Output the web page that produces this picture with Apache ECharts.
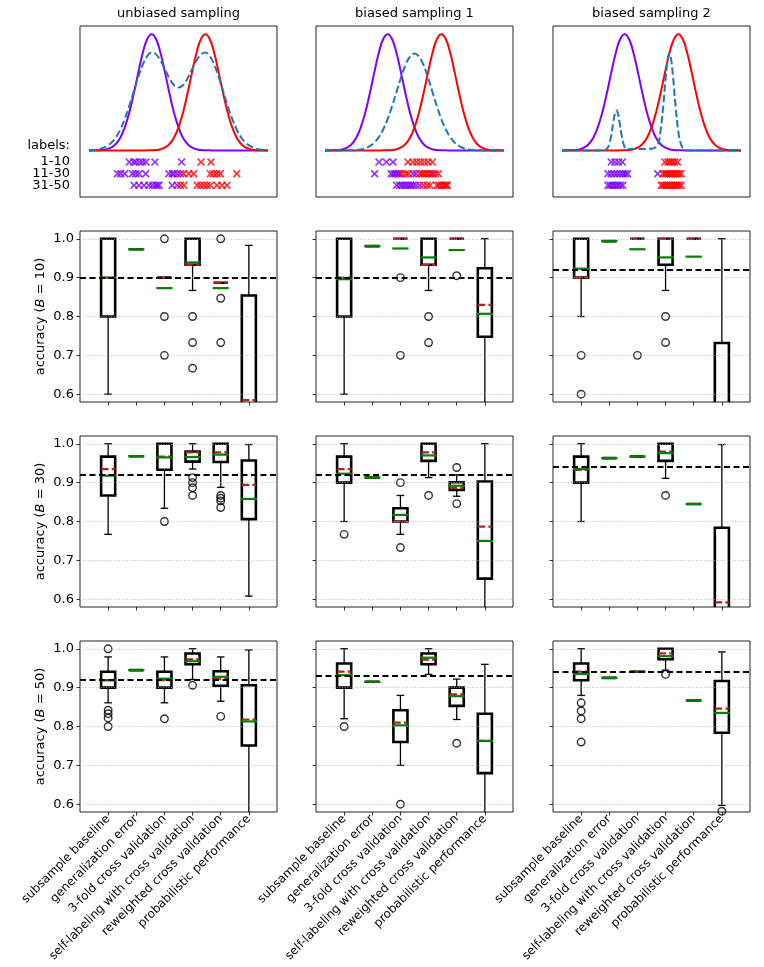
<!DOCTYPE html>
<html><head><meta charset="utf-8">
<script src="https://cdn.jsdelivr.net/npm/echarts@6/dist/echarts.min.js"></script>
<style>html,body{margin:0;padding:0;background:#fff}#c{width:764px;height:967px}</style>
</head><body><div id="c"></div>
<script>
// ---------- categories / labels ----------
const methods = ['subsample baseline','generalization error','3-fold cross validation','self-labeling with cross validation','reweighted cross validation','probabilistic performance'];
const samplings = ['unbiased sampling','biased sampling 1','biased sampling 2'];
const budgets = [10, 30, 50];
const labelRows = ['1-10','11-30','31-50'];
const labelRowY = [-0.1,-0.2,-0.3];

// ---------- top row: class densities and sampling densities ----------
const densX = [-6,-5.7,-5.4,-5.1,-4.8,-4.5,-4.2,-3.9,-3.6,-3.3,-3,-2.7,-2.4,-2.1,-1.8,-1.5,-1.2,-0.9,-0.6,-0.3,0,0.3,0.6,0.9,1.2,1.5,1.8,2.1,2.4,2.7,3,3.3,3.6,3.9,4.2,4.5,4.8,5.1,5.4,5.7,6];
const purpleDens = [0,0.001,0.002,0.004,0.011,0.026,0.056,0.110,0.198,0.325,0.487,0.667,0.835,0.956,1.000,0.956,0.835,0.667,0.487,0.325,0.198,0.110,0.056,0.026,0.011,0.004,0.002,0.001,0,0,0,0,0,0,0,0,0,0,0,0,0];
const redDens = [0,0,0,0,0,0,0,0,0,0,0,0,0,0.001,0.002,0.004,0.011,0.026,0.056,0.110,0.198,0.325,0.487,0.667,0.835,0.956,1.000,0.956,0.835,0.667,0.487,0.325,0.198,0.110,0.056,0.026,0.011,0.004,0.002,0.001,0];
const sampUnbiased = [0.002,0.004,0.009,0.019,0.037,0.066,0.112,0.180,0.271,0.382,0.506,0.630,0.736,0.811,0.842,0.826,0.771,0.695,0.618,0.561,0.541,0.561,0.618,0.695,0.771,0.826,0.842,0.811,0.736,0.630,0.506,0.382,0.271,0.180,0.112,0.066,0.037,0.019,0.009,0.004,0.002];
const sampBiased1 = [0,0,0,0,0,0.001,0.002,0.004,0.009,0.019,0.037,0.066,0.113,0.180,0.270,0.381,0.505,0.629,0.735,0.807,0.833,0.807,0.735,0.629,0.505,0.381,0.270,0.180,0.113,0.066,0.037,0.019,0.009,0.004,0.002,0.001,0,0,0,0,0];
const samp2X = [-6,-4,-3.2,-3.0,-2.85,-2.7,-2.55,-2.45,-2.35,-2.25,-2.15,-2.0,-1.85,-1.7,-1.5,-1,0,0.4,0.6,0.8,0.95,1.1,1.2,1.3,1.45,1.6,1.8,2.0,2.2,2.5,4,6];
const samp2Y = [0,0,0.002,0.012,0.047,0.129,0.25,0.318,0.345,0.318,0.25,0.129,0.047,0.015,0.012,0.012,0.015,0.044,0.16,0.4,0.625,0.796,0.833,0.796,0.625,0.4,0.16,0.044,0.01,0,0,0];

// labelled points (x positions per label row)
const purpleUnbiased = [[-3.3,-3.0,-2.85,-2.6,-2.4,-2.18,-1.58,0.21],[-4.09,-3.87,-3.6,-3.09,-2.87,-2.65,-2.2,-0.65,-0.42,-0.31,-0.09,0.13],[-2.98,-2.65,-2.31,-1.98,-1.75,-1.53,-1.42,-1.3,-0.42,-0.09]];
const redUnbiased = [[1.51,2.18],[0.33,0.69,1.02,2.13,2.35,2.58,2.8,3.91],[0.13,0.36,1.25,1.47,1.69,1.91,2.13,2.58,2.91,3.25]];
const purpleBiased1 = [[-2.38,-1.89,-1.44],[-2.67,-1.56,-1.4,-1.25,-1.1,-1.0,-0.1,0.1,1.22],[-1.2,-1.0,-0.85,-0.7,-0.55,-0.4,-0.25,-0.1,0.1,0.35]];
const redBiased1 = [[-0.44,-0.1,0.15,0.4,0.65,0.9,1.2],[-0.85,-0.6,-0.4,0.35,0.5,0.65,0.8,0.95,1.1,1.4,1.6],[0.6,0.85,1.05,1.5,1.65,1.8,1.95,2.05,2.15,2.2]];
const purpleBiased2 = [[-2.7,-2.45,-2.2,-1.95],[-2.92,-2.7,-2.5,-2.3,-2.1,-1.9,-1.75,-1.6,0.42],[-2.92,-2.78,-2.64,-2.5,-2.36,-2.22,-2.07,-1.92]];
const redBiased2 = [[0.9,1.1,1.25,1.4,1.55,1.75],[0.76,0.88,1.0,1.12,1.24,1.36,1.48,1.6,1.72,1.85,1.99],[0.65,0.77,0.89,1.01,1.13,1.25,1.37,1.49,1.61,1.73,1.86,1.99]];

// ---------- box statistics: [low whisker, Q1, median, Q3, high whisker] ----------
const boxB10Unbiased = [[0.6,0.8,0.9,1.0,1.0],[0.973,0.973,0.973,0.973,0.973],[0.9,0.9,0.9,0.9,0.9],[0.867,0.933,0.933,1.0,1.0],[0.887,0.887,0.887,0.887,0.887],[0.3,0.5,0.585,0.854,0.983]];
const meanB10Unbiased = [0.9,0.973,0.873,0.939,0.873,0.55];
const outB10Unbiased = [[],[],[1.0,0.8,0.7],[0.8,0.733,0.667],[1.0,0.847,0.733],[]];
const boxB10Biased1 = [[0.6,0.8,0.9,1.0,1.0],[0.981,0.981,0.981,0.981,0.981],[1,1,1,1,1],[0.867,0.933,0.933,1.0,1.0],[1,1,1,1,1],[0.45,0.748,0.83,0.924,1.0]];
const meanB10Biased1 = [0.896,0.981,0.975,0.952,0.971,0.807];
const outB10Biased1 = [[],[],[0.9,0.7],[0.8,0.733],[0.905],[]];
const boxB10Biased2 = [[0.8,0.9,0.9,1.0,1.0],[0.994,0.994,0.994,0.994,0.994],[1,1,1,1,1],[0.867,0.933,1.0,1.0,1.0],[1,1,1,1,1],[0.2,0.4,0.5,0.732,1.0]];
const meanB10Biased2 = [0.923,0.994,0.973,0.952,0.954,0.5];
const outB10Biased2 = [[0.7,0.6],[],[0.7],[0.8,0.733],[],[]];

const boxB30Unbiased = [[0.767,0.867,0.935,0.967,1.0],[0.968,0.968,0.968,0.968,0.968],[0.834,0.933,0.967,1.0,1.0],[0.935,0.954,0.978,0.98,1.0],[0.888,0.953,0.978,1.0,1.0],[0.608,0.806,0.894,0.957,0.998]];
const meanB30Unbiased = [0.918,0.968,0.965,0.966,0.972,0.858];
const outB30Unbiased = [[],[],[0.8],[0.913,0.9,0.887,0.867],[0.867,0.86,0.853,0.836],[]];
const boxB30Biased1 = [[0.8,0.9,0.935,0.967,1.0],[0.913,0.913,0.913,0.913,0.913],[0.767,0.8,0.8,0.834,0.867],[0.913,0.956,0.978,1.0,1.0],[0.865,0.881,0.886,0.901,0.92],[0.45,0.653,0.787,0.903,1.0]];
const meanB30Biased1 = [0.923,0.913,0.817,0.97,0.892,0.75];
const outB30Biased1 = [[0.767],[],[0.9,0.733],[0.867],[0.939,0.846],[]];
const boxB30Biased2 = [[0.8,0.9,0.933,0.967,1.0],[0.963,0.963,0.963,0.963,0.963],[0.967,0.967,0.967,0.967,0.967],[0.911,0.956,0.98,1.0,1.0],[0.845,0.845,0.845,0.845,0.845],[0.2,0.45,0.592,0.784,0.998]];
const meanB30Biased2 = [0.935,0.963,0.967,0.976,0.845,0.5];
const outB30Biased2 = [[],[],[],[0.867],[],[]];

const boxB50Unbiased = [[0.861,0.9,0.919,0.941,0.979],[0.945,0.945,0.945,0.945,0.945],[0.861,0.9,0.919,0.941,0.979],[0.921,0.96,0.973,0.988,1.0],[0.865,0.905,0.923,0.942,0.979],[0.4,0.751,0.818,0.906,0.997]];
const meanB50Unbiased = [0.919,0.945,0.923,0.968,0.928,0.813];
const outB50Unbiased = [[1.0,0.842,0.833,0.822,0.8],[],[0.82],[0.906],[0.826],[]];
const boxB50Biased1 = [[0.82,0.9,0.941,0.962,1.0],[0.915,0.915,0.915,0.915,0.915],[0.7,0.76,0.81,0.842,0.88],[0.934,0.96,0.972,0.988,1.0],[0.818,0.853,0.883,0.9,0.922],[0.45,0.68,0.763,0.833,0.96]];
const meanB50Biased1 = [0.932,0.915,0.803,0.977,0.878,0.763];
const outB50Biased1 = [[0.8],[],[0.6],[],[0.757],[]];
const boxB50Biased2 = [[0.88,0.919,0.941,0.962,1.0],[0.925,0.925,0.925,0.925,0.925],[0.941,0.941,0.941,0.941,0.941],[0.945,0.973,0.988,1.0,1.0],[0.867,0.867,0.867,0.867,0.867],[0.597,0.784,0.846,0.917,0.992]];
const meanB50Biased2 = [0.935,0.925,0.941,0.981,0.867,0.835];
const outB50Biased2 = [[0.861,0.84,0.82,0.76],[],[],[0.934],[],[0.582]];

const refLines = [[0.9,0.896,0.923],[0.918,0.923,0.935],[0.919,0.932,0.935]];
const gridVals = [0.6,0.7,0.8,0.9,1.0];

// ---------- assemble ----------
const topCurves = [
  {dx: densX, dy: sampUnbiased, purple: purpleUnbiased, red: redUnbiased},
  {dx: densX, dy: sampBiased1, purple: purpleBiased1, red: redBiased1},
  {dx: samp2X, dy: samp2Y, purple: purpleBiased2, red: redBiased2}
];
const panels = [
  [[boxB10Unbiased,meanB10Unbiased,outB10Unbiased],[boxB10Biased1,meanB10Biased1,outB10Biased1],[boxB10Biased2,meanB10Biased2,outB10Biased2]],
  [[boxB30Unbiased,meanB30Unbiased,outB30Unbiased],[boxB30Biased1,meanB30Biased1,outB30Biased1],[boxB30Biased2,meanB30Biased2,outB30Biased2]],
  [[boxB50Unbiased,meanB50Unbiased,outB50Unbiased],[boxB50Biased1,meanB50Biased1,outB50Biased1],[boxB50Biased2,meanB50Biased2,outB50Biased2]]
];

const colLeft = [80, 316, 553], W = 197, H = 171, rowTop = [26, 231, 436, 641];
const PURPLE = '#8000ff', RED = '#ff0000', BLUE = '#1f77b4';
const crossPath = 'path://M0,1.5L1.5,0L5,3.5L8.5,0L10,1.5L6.5,5L10,8.5L8.5,10L5,6.5L1.5,10L0,8.5L3.5,5Z';

function renderBox(params, api) {
  const i = api.value(0);
  const low = api.value(1), q1 = api.value(2), med = api.value(3), q3 = api.value(4), high = api.value(5), mean = api.value(6);
  const unit = api.size([1, 0])[0];
  const w = unit * 0.5, cw = unit * 0.27;
  const P = v => api.coord([i, v]);
  const cx = P(med)[0];
  const yL = P(low)[1], y1 = P(q1)[1], yM = P(med)[1], y3 = P(q3)[1], yH = P(high)[1], yMe = P(mean)[1];
  const L = (x1, ya, x2, yb, style) => ({type: 'line', shape: {x1: x1, y1: ya, x2: x2, y2: yb}, style: style});
  const thin = {stroke: '#000', lineWidth: 1.3};
  return {type: 'group', children: [
    L(cx, y1, cx, yL, thin),
    L(cx, y3, cx, yH, thin),
    L(cx - cw / 2, yL, cx + cw / 2, yL, thin),
    L(cx - cw / 2, yH, cx + cw / 2, yH, thin),
    {type: 'polygon', shape: {points: [[cx - w / 2, y3], [cx + w / 2, y3], [cx + w / 2, y1], [cx - w / 2, y1]]}, style: {fill: 'none', stroke: '#000', lineWidth: 2.6}},
    L(cx - w / 2, yM, cx + w / 2, yM, {stroke: '#b22222', lineWidth: 2.2, lineDash: [7.4, 3.2]}),
    L(cx - w / 2, yMe, cx + w / 2, yMe, {stroke: '#008000', lineWidth: 2.2, lineCap: 'square'})
  ]};
}

const option = {animation: false, textStyle: {fontFamily: 'DejaVu Sans'}, grid: [], xAxis: [], yAxis: [], series: [], graphic: []};

for (let c = 0; c < 3; c++) {
  option.graphic.push({type: 'text', x: colLeft[c] + W / 2, y: 14, style: {text: samplings[c], textAlign: 'center', textVerticalAlign: 'middle', font: '13px "DejaVu Sans"', fill: '#000'}});
  option.grid.push({left: colLeft[c], top: rowTop[0], width: W, height: H, show: true, borderColor: '#222', borderWidth: 1, containLabel: false, outerBoundsMode: 'none'});
  option.xAxis.push({gridIndex: c, type: 'value', min: -6.6, max: 6.6, show: false});
  option.yAxis.push({gridIndex: c, type: 'value', min: -0.4, max: 1.07, interval: 0.1, axisLine: {show: false}, axisTick: {show: false}, splitLine: {show: false},
    axisLabel: {show: c === 0, margin: 10, fontSize: 13, color: '#000', showMaxLabel: false,
      formatter: v => { const k = Math.round(v * 10); if (k === 0) return '{l|labels:}'; if (k < 0 && k >= -3) return labelRows[-k - 1]; return ''; },
      rich: {l: {fontSize: 13, color: '#000', padding: [0, 0, 10, 0]}}}});
  const tc = topCurves[c];
  option.series.push({type: 'line', xAxisIndex: c, yAxisIndex: c, data: densX.map((x, i) => [x, purpleDens[i]]), smooth: true, symbol: 'none', silent: true, lineStyle: {color: PURPLE, width: 2}});
  option.series.push({type: 'line', xAxisIndex: c, yAxisIndex: c, data: densX.map((x, i) => [x, redDens[i]]), smooth: true, symbol: 'none', silent: true, lineStyle: {color: RED, width: 2}});
  option.series.push({type: 'line', xAxisIndex: c, yAxisIndex: c, data: tc.dx.map((x, i) => [x, tc.dy[i]]), smooth: 0.4, symbol: 'none', silent: true, lineStyle: {color: BLUE, width: 2, type: [7.4, 3.2]}});
  option.series.push({type: 'scatter', xAxisIndex: c, yAxisIndex: c, data: tc.purple.flatMap((xs, r) => xs.map(x => [x, labelRowY[r]])), symbol: crossPath, symbolSize: 8, silent: true, itemStyle: {color: PURPLE}});
  option.series.push({type: 'scatter', xAxisIndex: c, yAxisIndex: c, data: tc.red.flatMap((xs, r) => xs.map(x => [x, labelRowY[r]])), symbol: crossPath, symbolSize: 8, silent: true, itemStyle: {color: RED}});
}

const tickInt = i => i >= 1 && i <= 6;
for (let r = 0; r < 3; r++) {
  for (let c = 0; c < 3; c++) {
    const gi = 3 + r * 3 + c;
    const [boxes, means, outs] = panels[r][c];
    option.grid.push({left: colLeft[c], top: rowTop[r + 1], width: W, height: H, show: true, borderColor: '#222', borderWidth: 1, containLabel: false, outerBoundsMode: 'none'});
    option.xAxis.push({gridIndex: gi, type: 'category', data: [''].concat(methods, ['']), boundaryGap: false,
      axisLine: {show: false}, splitLine: {show: false},
      axisTick: {show: true, interval: tickInt, length: 3.5, lineStyle: {color: '#000', width: 0.8}},
      axisLabel: {show: r === 2, interval: tickInt, rotate: 45, fontSize: 12, color: '#000', margin: 5}});
    option.yAxis.push({gridIndex: gi, type: 'value', min: 0.58, max: 1.02,
      axisLine: {show: false}, splitLine: {show: false},
      axisTick: {show: true, length: 3.5, lineStyle: {color: '#000', width: 0.8}, customValues: gridVals},
      axisLabel: {show: c === 0, fontSize: 13, color: '#000', margin: 6, formatter: v => v.toFixed(1), customValues: gridVals},
      name: c === 0 ? 'accuracy ({i|B} = ' + budgets[r] + ')' : '', nameLocation: 'middle', nameGap: 33, nameRotate: 90,
      nameTextStyle: {fontSize: 13, color: '#000', rich: {i: {fontSize: 13, color: '#000', fontStyle: 'italic'}}}});
    option.series.push({type: 'line', xAxisIndex: gi, yAxisIndex: gi, data: [[1, 0.9]], symbol: 'none', lineStyle: {width: 0}, z: 1, silent: true,
      markLine: {silent: true, symbol: 'none', label: {show: false}, animation: false, lineStyle: {color: '#b0b0b0', width: 0.8, type: [1, 1.6]}, data: gridVals.map(v => ({yAxis: v}))}});
    option.series.push({type: 'line', xAxisIndex: gi, yAxisIndex: gi, data: [[1, 0.9]], symbol: 'none', lineStyle: {width: 0}, z: 2, silent: true,
      markLine: {silent: true, symbol: 'none', label: {show: false}, animation: false, lineStyle: {color: '#000', width: 1.8, type: [6, 3.5]}, data: [{yAxis: refLines[r][c]}]}});
    option.series.push({type: 'custom', xAxisIndex: gi, yAxisIndex: gi, renderItem: renderBox, clip: true, z: 3, silent: true,
      encode: {x: 0, y: [1, 2, 3, 4, 5, 6]},
      data: boxes.map((b, i) => [i + 1].concat(b, [means[i]]))});
    option.series.push({type: 'scatter', xAxisIndex: gi, yAxisIndex: gi, z: 4, silent: true, symbol: 'circle', symbolSize: 7.5,
      itemStyle: {color: 'rgba(0,0,0,0)', borderColor: '#000', borderWidth: 1.4},
      data: outs.flatMap((arr, i) => arr.map(v => [i + 1, v]))});
  }
}

const chart = echarts.init(document.getElementById('c'), null, {renderer: 'canvas'});
chart.setOption(option);
</script></body></html>
